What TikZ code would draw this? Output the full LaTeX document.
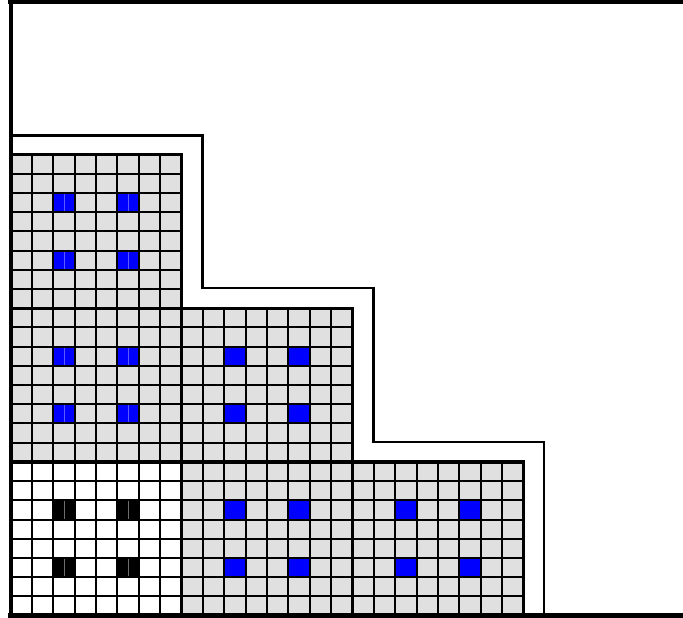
\documentclass[tikz,border=0pt]{standalone}
\definecolor{cellgray}{RGB}{224,224,224}
\definecolor{markblue}{RGB}{0,0,255}
\definecolor{midblue}{RGB}{90,90,255}
\definecolor{midgray}{RGB}{110,110,110}
\tikzset{
  gridline/.style={line width=2pt,black},
  blockborder/.style={line width=3.4pt,black},
  axisline/.style={line width=4.5pt,black},
  stairline/.style={line width=2.2pt,black},
  midline/.style={line width=0.8pt}
}
\newcommand\myblock[5]{%
  \fill[#3] (#1,#2) rectangle ++(171,153.7);
  \foreach \c in {2,5}{\foreach \r in {2,5}{%
    \fill[#4] ({#1+\c*21.375},{#2+\r*19.2125}) rectangle ++(21.375,19.2125);
    \draw[midline,#5] ({#1+(\c+0.5)*21.375},{#2+\r*19.2125}) -- ++(0,19.2125);}}
  \foreach \i in {1,...,7}{%
    \draw[gridline] ({#1+\i*21.375},#2) -- ++(0,153.7);
    \draw[gridline] (#1,{#2+\i*19.2125}) -- ++(171,0);}
  \draw[blockborder] (#1,#2) rectangle ++(171,153.7);
}
\begin{document}
\begin{tikzpicture}[x=1pt,y=-1pt]
\useasboundingbox (0,0) rectangle (683,618);
\fill[white] (0,0) rectangle (683,618);
% blocks
\myblock{10.5}{154.5}{cellgray}{markblue}{midblue}
\myblock{10.5}{308.2}{cellgray}{markblue}{midblue}
\myblock{10.5}{461.9}{white}{black}{midgray}
\myblock{181.5}{308.2}{cellgray}{markblue}{markblue}
\myblock{181.5}{461.9}{cellgray}{markblue}{markblue}
\myblock{352.5}{461.9}{cellgray}{markblue}{markblue}
% staircase outline
\draw[stairline] (10,135.5) -- (202.5,135.5) -- (202.5,288) -- (373.5,288)
  -- (373.5,442) -- (544,442) -- (544,615.6);
% axes
\draw[axisline] (8,2) -- (683,2);
\draw[axisline] (11,0) -- (11,618);
\draw[axisline] (8,615.6) -- (683,615.6);
\end{tikzpicture}
\end{document}
